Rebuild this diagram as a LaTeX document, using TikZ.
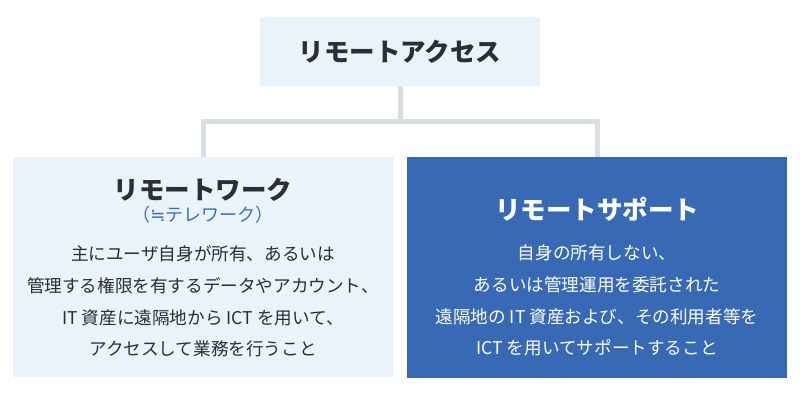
\documentclass[tikz,border=0pt]{standalone}
\usepackage{fontspec}
\setmainfont{Noto Sans CJK JP}
\newfontfamily\symfont{DejaVu Sans}
\definecolor{paleblue}{HTML}{EAF2FA}
\definecolor{deepblue}{HTML}{3869B4}
\definecolor{darktext}{HTML}{2B2D3A}
\definecolor{subblue}{HTML}{3A6FC0}
\definecolor{linegray}{HTML}{D9DEE3}
\tikzset{
  lightbox/.style={fill=paleblue, draw=none, inner sep=0pt},
  darkbox/.style={fill=deepblue, draw=none, inner sep=0pt},
  titletext/.style={font=\fontsize{25.5}{30}\selectfont\bfseries, inner sep=0pt},
  bodytext/.style={font=\fontsize{17.6}{31.7}\selectfont, align=center, inner sep=0pt},
  subtext/.style={font=\fontsize{18}{22}\selectfont, text=subblue, inner sep=0pt},
  link/.style={draw=linegray, line width=5pt}
}
\begin{document}
\begin{tikzpicture}[x=1pt, y=-1pt]
\useasboundingbox (0,0) rectangle (800,400);
\node[lightbox, minimum width=280pt, minimum height=69pt] (top) at (400,51.5) {};
\node[titletext, text=darktext] (toptitle) at (400,52) {リモートアクセス};
\node[lightbox, minimum width=380pt, minimum height=220pt] (left) at (203,267) {};
\node[darkbox, minimum width=380pt, minimum height=221pt] (right) at (597,267.5) {};
\draw[link] (top.south) -- (400,121) -| (left.north);
\draw[link] (400,121) -| (right.north);
\node[titletext, text=darktext] (lt) at (203,190) {リモートワーク};
\node[subtext] (ls) at (203,215) {（{\symfont ≒}テレワーク）};
\node[bodytext, text=darktext, anchor=center] (lb) at (203,301.5) {主にユーザ自身が所有、あるいは\\管理する権限を有するデータやアカウント、\\IT 資産に遠隔地から ICT を用いて、\\アクセスして業務を行うこと};
\node[titletext, text=white] (rt) at (597,209) {リモートサポート};
\node[bodytext, text=white] (rb) at (597,300.5) {自身の所有しない、\\あるいは管理運用を委託された\\遠隔地の IT 資産および、その利用者等を\\ICT を用いてサポートすること};
\end{tikzpicture}
\end{document}
